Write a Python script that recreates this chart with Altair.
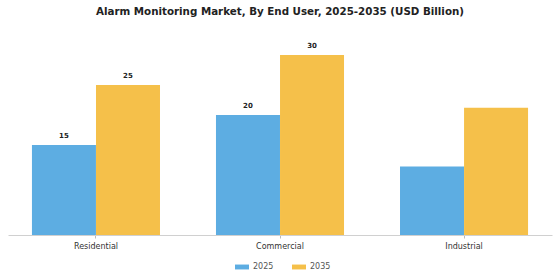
import altair as alt
import pandas as pd

# Market size by end user, USD billion
end_users = ["Residential", "Commercial", "Industrial"]
values_2025 = [15, 20, 11.4]
values_2035 = [25, 30, 21.2]
labels_2025 = ["15", "20", ""]
labels_2035 = ["25", "30", ""]
years = ["2025", "2035"]
colors = ["#5DADE2", "#F5C04A"]

rows = []
for i, u in enumerate(end_users):
    rows.append({"user": u, "year": "2025", "value": values_2025[i], "label": labels_2025[i]})
    rows.append({"user": u, "year": "2035", "value": values_2035[i], "label": labels_2035[i]})
df = pd.DataFrame(rows)

x_enc = alt.X(
    "user:N",
    sort=end_users,
    title=None,
    scale=alt.Scale(paddingInner=0.304, paddingOuter=0.13),
    axis=alt.Axis(
        labelAngle=0,
        labelFont="DejaVu Sans",
        labelFontSize=8,
        labelColor="#333333",
        labelPadding=4,
        domainColor="#d0d0d0",
        tickColor="#bbbbbb",
        tickSize=3,
        grid=False,
    ),
)
y_enc = alt.Y(
    "value:Q",
    scale=alt.Scale(domain=[0, 33.333], nice=False),
    axis=None,
)
off = alt.XOffset("year:N", sort=years)

bars = alt.Chart(df).mark_bar(size=64).encode(
    x=x_enc,
    xOffset=off,
    y=y_enc,
    color=alt.Color(
        "year:N",
        sort=years,
        scale=alt.Scale(domain=years, range=colors),
        legend=alt.Legend(
            title=None,
            orient="none",
            legendX=227,
            legendY=225,
            direction="horizontal",
            labelFont="DejaVu Sans",
            labelFontSize=8,
            labelColor="#555555",
            symbolType="M-1,-0.35L1,-0.35L1,0.35L-1,0.35Z",
            symbolSize=196,
            symbolStrokeWidth=0,
            columnPadding=18,
        ),
    ),
)

text = alt.Chart(df).mark_text(
    dy=-9, font="DejaVu Sans", fontSize=7, fontWeight="bold", color="#222222"
).encode(
    x=x_enc,
    xOffset=off,
    y=y_enc,
    text="label:N",
)

chart = (
    alt.layer(bars, text)
    .properties(
        width=544,
        height=200,
        background="white",
        autosize=alt.AutoSizeParams(type="none"),
        padding={"left": 8, "top": 35, "right": 8, "bottom": 45},
        title=alt.TitleParams(
            "Alarm Monitoring Market, By End User, 2025-2035 (USD Billion)",
            font="DejaVu Sans",
            fontSize=10.3,
            fontWeight="bold",
            color="#222222",
            anchor="middle",
            offset=18,
        ),
    )
    .configure_view(strokeWidth=0)
)

chart.save("out.html", embed_options={"renderer": "svg", "actions": False})
